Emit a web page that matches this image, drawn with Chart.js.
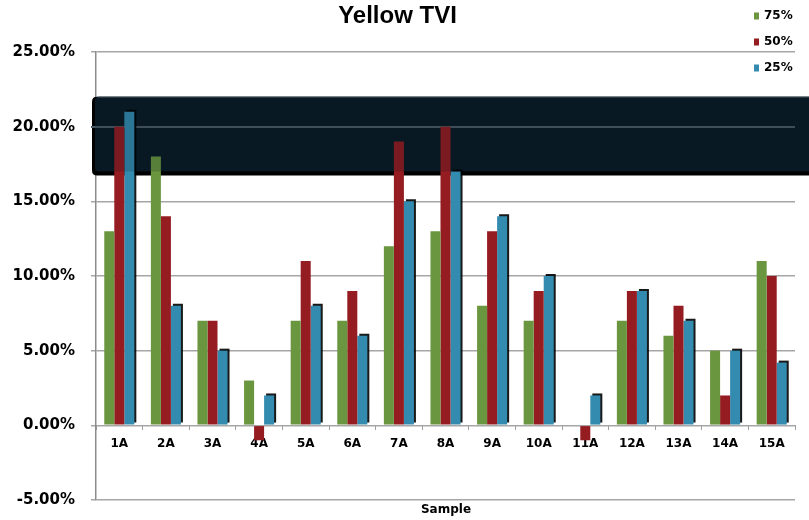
<!DOCTYPE html>
<html>
<head>
<meta charset="utf-8">
<script src="https://cdn.jsdelivr.net/npm/chart.js@4.4.1/dist/chart.umd.min.js"></script>
<style>
  html, body { margin: 0; padding: 0; background: #ffffff; }
  canvas { display: block; }
</style>
</head>
<body>
<canvas id="tviChart" width="809" height="520"></canvas>
<script>
// Samples along the category axis
const samples = ['1A', '2A', '3A', '4A', '5A', '6A', '7A', '8A', '9A', '10A', '11A', '12A', '13A', '14A', '15A'];

// Tone value increase (%) per sample, one list per tint level
const tvi75 = [13, 18, 7, 3, 7, 7, 12, 13, 8, 7, null, 7, 6, 5, 11];
const tvi50 = [20, 14, 7, -1, 11, 9, 19, 20, 13, 9, -1, 9, 8, 2, 10];
const tvi25 = [21, 8, 5, 2, 8, 6, 15, 17, 14, 10, 2, 9, 7, 5, 4.2];

// Value axis ticks (%)
const yTicks = [-5, 0, 5, 10, 15, 20, 25];

// Highlighted tolerance zone (%), lower and upper bound
const highlightBand = [17, 22];

const chartTitle = 'Yellow TVI';
const categoryTitle = 'Sample';
const seriesLabels = ['75%', '50%', '25%'];

const FONT = '"DejaVu Sans", "Liberation Sans", Arial, sans-serif';

function roundedLeftRect(ctx, x, y, w, h, r) {
  ctx.beginPath();
  ctx.moveTo(x + r, y);
  ctx.lineTo(x + w, y);
  ctx.lineTo(x + w, y + h);
  ctx.lineTo(x + r, y + h);
  ctx.quadraticCurveTo(x, y + h, x, y + h - r);
  ctx.lineTo(x, y + r);
  ctx.quadraticCurveTo(x, y, x + r, y);
  ctx.closePath();
  ctx.fill();
}

// Dark tolerance band behind the bars, with its own grid line on top
const bandPlugin = {
  id: 'bandPlugin',
  beforeDatasetsDraw(chart) {
    const { ctx, chartArea, scales } = chart;
    const y = scales.y;
    const top = y.getPixelForValue(highlightBand[1]);
    const bottom = y.getPixelForValue(highlightBand[0]);
    const left = chartArea.left - 4;
    const right = chart.width + 6;
    ctx.save();
    ctx.fillStyle = '#000000';
    roundedLeftRect(ctx, left, top, right - left, bottom - top + 4, 5);
    ctx.fillStyle = '#0a1a25';
    roundedLeftRect(ctx, left + 3, top, right - left - 3, bottom - top, 4);
    ctx.fillStyle = '#34444f';
    ctx.fillRect(left + 6, top, right - left, 1);
    // grid lines crossing the band
    ctx.strokeStyle = '#4c5b66';
    ctx.lineWidth = 2;
    y.ticks.forEach(t => {
      if (t.value > highlightBand[0] && t.value < highlightBand[1]) {
        const py = Math.round(y.getPixelForValue(t.value));
        ctx.beginPath();
        ctx.moveTo(chartArea.left - 5, py);
        ctx.lineTo(chartArea.right, py);
        ctx.stroke();
      }
    });
    ctx.restore();
  },
  afterDatasetsDraw(chart) {
    const { ctx, chartArea, scales } = chart;
    const y = scales.y;
    const top = y.getPixelForValue(highlightBand[1]);
    const bottom = y.getPixelForValue(highlightBand[0]);
    ctx.save();
    ctx.fillStyle = 'rgba(8, 22, 32, 0.18)';
    ctx.fillRect(chartArea.left - 1, top + 1, chart.width, bottom - top - 1);
    ctx.restore();
  }
};

// Dark drop shadow on the 25% bars
const shadowPlugin = {
  id: 'shadowPlugin',
  beforeDatasetDraw(chart, args) {
    const ctx = chart.ctx;
    ctx.save();
    if (args.index === 2) {
      ctx.shadowColor = 'rgba(0, 0, 0, 0.9)';
      ctx.shadowOffsetX = 2;
      ctx.shadowOffsetY = -2;
      ctx.shadowBlur = 0;
    }
  },
  afterDatasetDraw(chart) {
    chart.ctx.restore();
  }
};

// Stacked legend at the top right and the category axis title
const decorPlugin = {
  id: 'decorPlugin',
  afterDraw(chart) {
    const ctx = chart.ctx;
    ctx.save();
    ctx.textBaseline = 'middle';
    ctx.font = 'bold 12px ' + FONT;
    chart.data.datasets.forEach((ds, i) => {
      const cy = 16 + i * 26;
      ctx.fillStyle = ds.backgroundColor;
      ctx.fillRect(754, cy - 3.5, 5, 7);
      ctx.fillStyle = '#000000';
      ctx.textAlign = 'left';
      ctx.fillText(ds.label, 764, cy);
    });
    ctx.textAlign = 'center';
    ctx.fillText(categoryTitle, 446, 510);
    ctx.restore();
  }
};

new Chart(document.getElementById('tviChart'), {
  type: 'bar',
  data: {
    labels: samples,
    datasets: [
      { label: seriesLabels[0], data: tvi75, backgroundColor: '#6a963f' },
      { label: seriesLabels[1], data: tvi50, backgroundColor: '#951c21' },
      { label: seriesLabels[2], data: tvi25, backgroundColor: '#348bb0' }
    ]
  },
  options: {
    responsive: false,
    animation: false,
    layout: { padding: { left: 0, right: 14, top: 0, bottom: 20 } },
    datasets: {
      bar: { categoryPercentage: 0.645, barPercentage: 1.0, borderWidth: 0 }
    },
    plugins: {
      legend: { display: false },
      tooltip: { enabled: false },
      title: {
        display: true,
        text: chartTitle,
        color: '#000000',
        font: { family: '"Liberation Sans", Arial, sans-serif', size: 24, weight: 'bold' },
        padding: { top: 2, bottom: 21.2 }
      }
    },
    scales: {
      x: {
        position: { y: 0 },
        afterFit(scale) {
          // the category axis sits on the zero line, so it takes no layout height
          scale.height = 0;
        },
        grid: {
          drawOnChartArea: false,
          drawTicks: true,
          tickLength: 5,
          color: '#a0a0a0',
          lineWidth: 1,
          offset: true
        },
        border: { display: false },
        ticks: {
          color: '#000000',
          font: { family: FONT, size: 12, weight: 'bold' },
          padding: 6,
          maxRotation: 0,
          autoSkip: false
        }
      },
      y: {
        min: yTicks[0],
        max: yTicks[yTicks.length - 1],
        afterBuildTicks(scale) {
          scale.ticks = yTicks.map(v => ({ value: v }));
        },
        afterFit(scale) {
          scale.width = 96;
          // only half a label height is needed above and below the axis
          scale.paddingTop = 9;
          scale.paddingBottom = 9;
        },
        grid: {
          color: '#a6a6a6',
          lineWidth: 1.5,
          drawTicks: true,
          tickLength: 5
        },
        border: { display: true, color: '#8c8c8c', width: 1.5 },
        ticks: {
          color: '#000000',
          font: { family: FONT, size: 15, weight: 'bold' },
          padding: 16,
          callback: v => Number(v).toFixed(2) + '%'
        }
      }
    }
  },
  plugins: [bandPlugin, shadowPlugin, decorPlugin]
});
</script>
</body>
</html>
